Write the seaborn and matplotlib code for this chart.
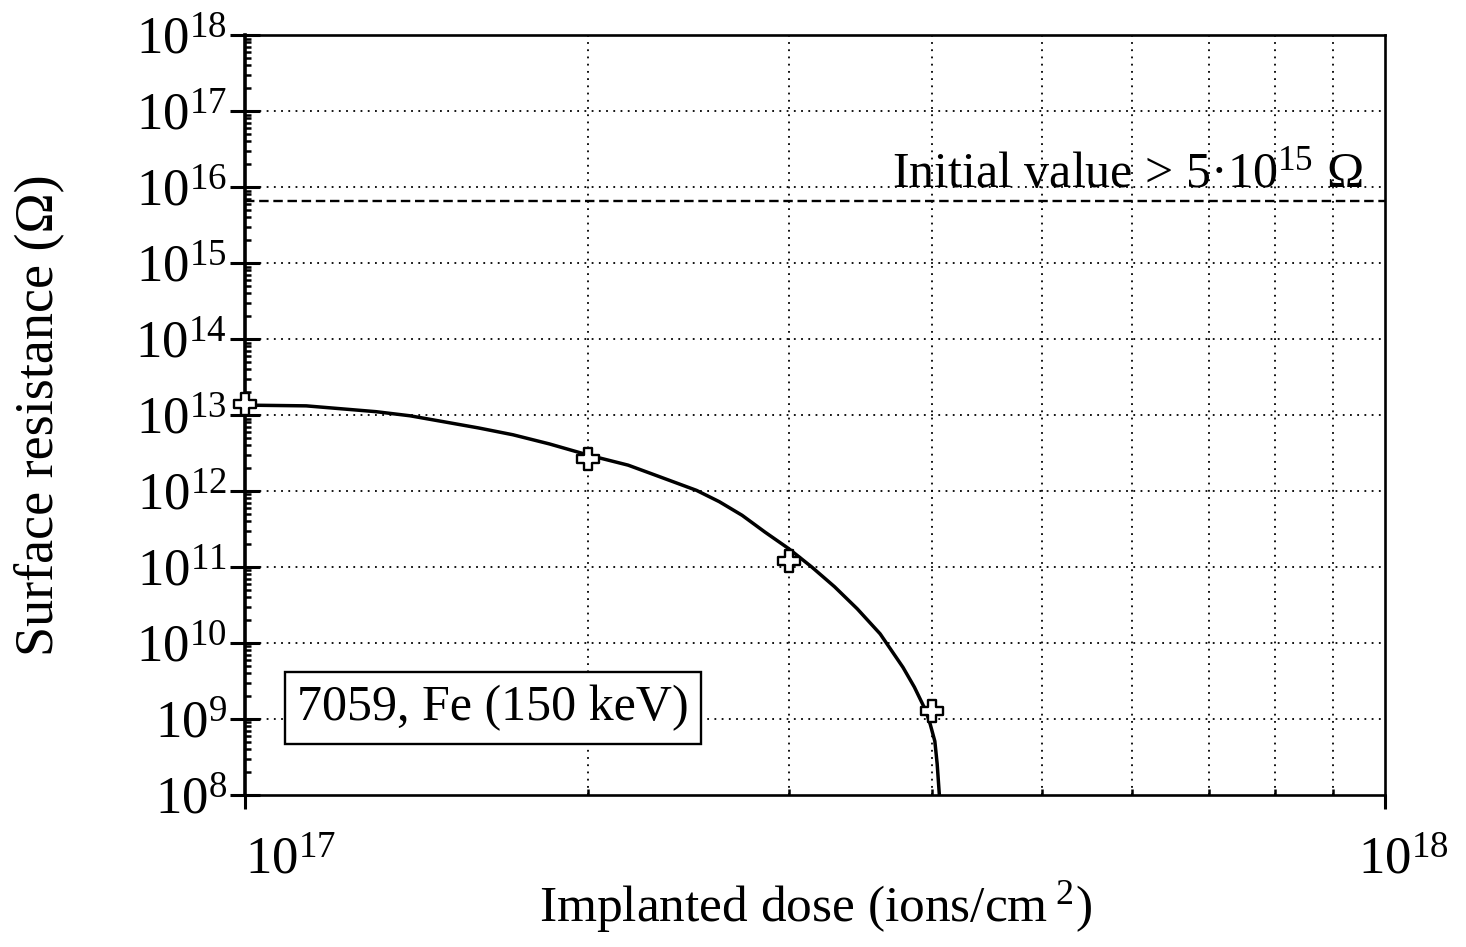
import numpy as np
import pandas as pd
import matplotlib
matplotlib.use("Agg")
import matplotlib.pyplot as plt
import matplotlib.ticker as mticker
import matplotlib.transforms as mtransforms
import seaborn as sns

# measured points
dose = [1.0e17, 2.0e17, 3.0e17, 4.0e17]
resistance = [1.4e13, 2.6e12, 1.2e11, 1.27e9]

# fitted curve
curve_dose = [1.000e17, 1.132e17, 1.303e17, 1.396e17, 1.496e17, 1.603e17, 1.718e17,
              1.849e17, 2.004e17, 2.168e17, 2.270e17, 2.489e17, 2.606e17, 2.729e17,
              2.858e17, 2.999e17, 3.141e17, 3.289e17, 3.443e17, 3.606e17, 3.776e17,
              3.864e17, 3.954e17, 3.990e17, 4.027e17, 4.046e17, 4.064e17]
curve_res = [1.35e13, 1.32e13, 1.107e13, 9.77e12, 8.13e12, 6.76e12, 5.50e12,
             4.17e12, 2.95e12, 2.19e12, 1.70e12, 1.02e12, 7.24e11, 4.79e11,
             2.88e11, 1.74e11, 1.0e11, 5.5e10, 2.82e10, 1.32e10, 4.79e9,
             2.63e9, 1.29e9, 8.5e8, 5.1e8, 2.57e8, 1.0e8]

initial_value = 6.5e15
y_ticks = [1e8, 1e9, 1e10, 1e11, 1e12, 1e13, 1e14, 1e15, 1e16, 1e17, 1e18]
x_ticks = [1e17, 1e18]

sns.set_style("ticks")
plt.rcParams['font.family'] = ['Liberation Serif', 'DejaVu Serif']
plt.rcParams['mathtext.fontset'] = 'custom'
plt.rcParams['mathtext.rm'] = 'Liberation Serif'
plt.rcParams['mathtext.it'] = 'Liberation Serif:italic'
plt.rcParams['mathtext.bf'] = 'Liberation Serif:bold'
plt.rcParams['mathtext.default'] = 'regular'
for key in ['text.color', 'axes.edgecolor', 'axes.labelcolor', 'xtick.color', 'ytick.color']:
    plt.rcParams[key] = 'black'

df_pts = pd.DataFrame({'dose': dose, 'res': resistance})
df_fit = pd.DataFrame({'dose': curve_dose, 'res': curve_res})

fig = plt.figure(figsize=(14.66, 9.47), dpi=100)
ax = fig.add_axes([0.167, 0.1605, 0.778, 0.8025])
ax.set_xscale('log')
ax.set_yscale('log')
ax.set_xlim(1e17, 1e18)
ax.set_ylim(1e8, 1e18)

# grid: decades on y, 2..9 on x
for y in y_ticks[1:-1]:
    ax.axhline(y, color='black', lw=1.3, ls=(0, (1, 3)), zorder=1)
for x in np.arange(2, 10) * 1e17:
    ax.axvline(x, color='black', lw=1.3, ls=(0, (1, 3)), zorder=1)

ax.axhline(initial_value, color='black', lw=1.7, ls=(0, (4, 2)), zorder=2)

sns.lineplot(data=df_fit, x='dose', y='res', sort=False, estimator=None,
             color='black', lw=2.5, ax=ax, zorder=3)
sns.scatterplot(data=df_pts, x='dose', y='res', marker='P', s=240,
                facecolor='white', edgecolor='black', linewidth=1.7, ax=ax, zorder=4,
                clip_on=False)

ax.text(9.55e17, 1.0e16, 'Initial value > 5·10$^{15}$ Ω', ha='right', va='baseline',
        fontsize=36, zorder=5)
ax.text(0.2175, 0.1145, '7059, Fe (150 keV)', transform=ax.transAxes, ha='center',
        va='center', fontsize=36, zorder=5,
        bbox=dict(boxstyle='square,pad=0.25', facecolor='white', edgecolor='black', lw=1.7))

# ticks
ax.yaxis.set_major_locator(mticker.FixedLocator(y_ticks))
ax.yaxis.set_major_formatter(mticker.FixedFormatter(
    ['$10^{%d}$' % int(np.log10(v)) for v in y_ticks]))
ax.yaxis.set_minor_locator(mticker.LogLocator(base=10, subs=np.arange(2, 10), numticks=20))
ax.yaxis.set_minor_formatter(mticker.NullFormatter())
ax.xaxis.set_major_locator(mticker.FixedLocator(x_ticks))
ax.xaxis.set_major_formatter(mticker.FixedFormatter(['$10^{17}$', '$10^{18}$']))
ax.xaxis.set_minor_locator(mticker.FixedLocator(np.arange(2, 10) * 1e17))
ax.xaxis.set_minor_formatter(mticker.NullFormatter())

ax.tick_params(axis='y', which='major', direction='inout', length=22, width=2.2,
               labelsize=38, pad=2)
ax.tick_params(axis='y', which='minor', direction='in', length=4, width=1.8)
ax.tick_params(axis='x', which='major', direction='out', length=10, width=2.2,
               labelsize=38, pad=20)
ax.tick_params(axis='x', which='minor', direction='in', length=4, width=1.8)

xl = ax.get_xticklabels()
xl[0].set_ha('left')
xl[1].set_ha('center')
xl[1].set_transform(xl[1].get_transform() +
                    mtransforms.ScaledTranslation(0.18, 0, fig.dpi_scale_trans))

ax.spines['left'].set_linewidth(2.6)
for s in ['top', 'right', 'bottom']:
    ax.spines[s].set_linewidth(1.9)
    ax.spines[s].set_visible(True)

ax.set_xlabel('Implanted dose (ions/cm$^{\\ 2}$)', fontsize=37)
ax.set_ylabel('Surface resistance (Ω)', fontsize=39)
ax.yaxis.set_label_coords(-0.158, 0.5)
ax.xaxis.set_label_coords(0.5, -0.11)

fig.savefig('out.png', dpi=100)
